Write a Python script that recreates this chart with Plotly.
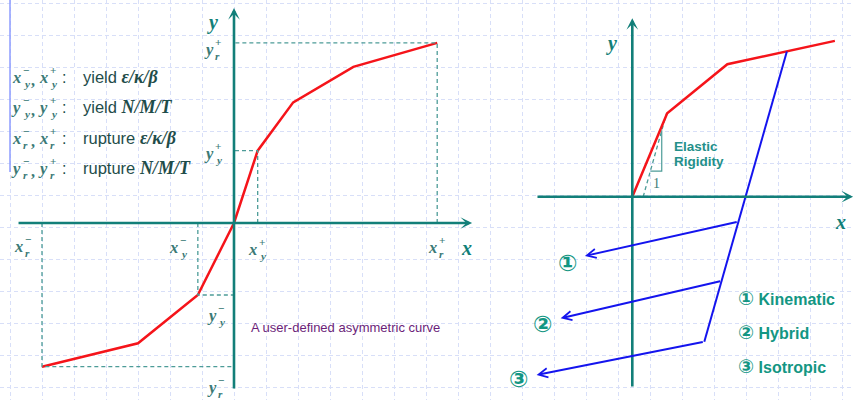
import plotly.graph_objects as go

W, H = 854, 400
UNIT = 32          # pixels per data unit in both panels
SPLIT = 500        # pixel column that separates the two panels
L_ORIGIN = (234.0, 223.0)
R_ORIGIN = (632.3, 196.7)

# ---------------- data : left panel (user-defined asymmetric curve) ----------------
left_curve_x = [-6.0, -3.0, -1.13, 0.0, 0.74, 1.85, 3.73, 6.35]
left_curve_y = [-4.49, -3.76, -2.25, 0.0, 2.26, 3.77, 4.88, 5.63]
left_key_points = [0, 2, 4, 7]          # rupture-, yield-, yield+, rupture+
left_xaxis_extent = [-6.78, 7.44]
left_yaxis_extent = [-5.22, 6.72]

# ---------------- data : right panel (hardening rules) ----------------
right_curve_x = [0.0, 1.09, 2.97, 6.33]
right_curve_y = [0.0, 2.61, 4.14, 4.87]
unload_x = [4.83, 2.25]
unload_y = [4.54, -4.53]
branch_start_x = [3.31, 2.79, 2.25]
branch_start_y = [-0.78, -2.63, -4.53]
branch_end_x = [-1.48, -2.24, -2.99]
branch_end_y = [-1.85, -3.80, -5.57]
rigidity_x = [0.34, 1.07]
rigidity_y = [0.0, 2.6]
triangle_x = [0.57, 0.92, 0.92]
triangle_y = [0.80, 0.80, 2.08]
right_xaxis_extent = [-3.01, 6.9]
right_yaxis_extent = [-5.98, 5.58]
branch_marks = ["①", "②", "③"]
hardening_names = ["Kinematic", "Hybrid", "Isotropic"]

# ---------------- text ----------------
legend_symbols = [("x", "y"), ("y", "y"), ("x", "r"), ("y", "r")]
legend_words = ["yield", "yield", "rupture", "rupture"]
legend_quantities = ["ε/κ/β", "N/M/T", "ε/κ/β", "N/M/T"]
left_axis_symbols = [("x", "−", "r"), ("x", "−", "y"), ("x", "+", "y"), ("x", "+", "r"),
                     ("y", "+", "r"), ("y", "+", "y"), ("y", "−", "y"), ("y", "−", "r")]
note_text = "A user-defined asymmetric curve"

# ---------------- styles ----------------
SERIF = "Liberation Serif, Times New Roman, serif"
SANS = "Liberation Sans, Arial, sans-serif"
CIRC = "DejaVu Sans, Noto Sans CJK SC, sans-serif"
AXIS_C = "#127f79"
LABEL_C = "#3b7a76"
GUIDE_C = "#4d9c98"
RED = "#f5141a"
BLUE = "#1414ee"
GREEN = "#139683"
TEXT_C = "#1f4d4a"
GRID_C = "#d8dff8"

fig = go.Figure()

# background grid subplot (pixel coordinates)
fig.add_trace(go.Scatter(x=[None], y=[None], xaxis="x", yaxis="y", showlegend=False, hoverinfo="skip"))

# ---- left panel ----
fig.add_trace(go.Scatter(x=left_curve_x, y=left_curve_y, xaxis="x2", yaxis="y2", mode="lines",
                         line=dict(color=RED, width=2.5), showlegend=False, hoverinfo="skip"))
for i in left_key_points:
    px, py = left_curve_x[i], left_curve_y[i]
    fig.add_trace(go.Scatter(x=[px, px, 0], y=[0, py, py], xaxis="x2", yaxis="y2", mode="lines",
                             line=dict(color=GUIDE_C, width=1.3, dash="4px,3px"),
                             showlegend=False, hoverinfo="skip"))

# ---- right panel ----
fig.add_trace(go.Scatter(x=rigidity_x, y=rigidity_y, xaxis="x3", yaxis="y3", mode="lines",
                         line=dict(color=GUIDE_C, width=1.3, dash="4px,3px"), showlegend=False, hoverinfo="skip"))
fig.add_trace(go.Scatter(x=triangle_x, y=triangle_y, xaxis="x3", yaxis="y3", mode="lines",
                         line=dict(color=GUIDE_C, width=1.2), showlegend=False, hoverinfo="skip"))
fig.add_trace(go.Scatter(x=right_curve_x, y=right_curve_y, xaxis="x3", yaxis="y3", mode="lines",
                         line=dict(color=RED, width=2.5), showlegend=False, hoverinfo="skip"))
fig.add_trace(go.Scatter(x=unload_x, y=unload_y, xaxis="x3", yaxis="y3", mode="lines",
                         line=dict(color=BLUE, width=2), showlegend=False, hoverinfo="skip"))

ann = []


def arrow(x0, y0, x1, y1, ax, color, width, head, size):
    ann.append(dict(x=x1, y=y1, ax=x0, ay=y0, xref=ax[0], yref=ax[1], axref=ax[0], ayref=ax[1],
                    text="", showarrow=True, arrowhead=head, arrowsize=size, arrowwidth=width,
                    arrowcolor=color, standoff=0, startstandoff=0))


# axes with arrows
arrow(left_xaxis_extent[0], 0, left_xaxis_extent[1], 0, ("x2", "y2"), AXIS_C, 2.6, 3, 0.75)
arrow(0, left_yaxis_extent[0], 0, left_yaxis_extent[1], ("x2", "y2"), AXIS_C, 2.6, 3, 0.75)
arrow(right_xaxis_extent[0], 0, right_xaxis_extent[1], 0, ("x3", "y3"), AXIS_C, 2.6, 3, 0.75)
arrow(0, right_yaxis_extent[0], 0, right_yaxis_extent[1], ("x3", "y3"), AXIS_C, 2.6, 3, 0.75)

# reloading branches
for sx, sy, ex, ey in zip(branch_start_x, branch_start_y, branch_end_x, branch_end_y):
    arrow(sx, sy, ex, ey, ("x3", "y3"), BLUE, 2, 5, 0.9)


def text(x, y, t, size, color, family, xanchor="center"):
    ann.append(dict(x=x, y=y, xref="x", yref="y", text=t, showarrow=False, xanchor=xanchor,
                    yanchor="middle", font=dict(size=size, color=color, family=family)))


def stacked(x, y, base, sup, sub, size=16.5, color=LABEL_C):
    text(x, y, f"<b><i>{base}</i></b>", size, color, SERIF)
    text(x + size * 0.28, y - size * 0.45, f"<b>{sup}</b>", size * 0.68, color, SERIF, "left")
    text(x + size * 0.28, y + size * 0.42, f"<b><i>{sub}</i></b>", size * 0.68, color, SERIF, "left")


# left legend block
legend_rows_y = [77, 107, 138, 168]
for ry, (b, s), word, q in zip(legend_rows_y, legend_symbols, legend_words, legend_quantities):
    stacked(16.3, ry, b, "−", s)
    text(32.5, ry + 3, "<b>,</b>", 16, LABEL_C, SERIF)
    stacked(43.3, ry, b, "+", s)
    text(63.5, ry, ":", 16, TEXT_C, SANS)
    text(81, ry, f"{word} <span style=\"font-family:Liberation Serif;font-size:18px\"><b><i>{q}</i></b></span>",
         16.5, TEXT_C, SANS, "left")

# left axis labels
left_label_pos = [(18.5, 246), (173.5, 247), (252.5, 249), (432.5, 247.5),
                  (208.5, 49), (208.5, 153), (211.5, 315), (211.5, 387)]
for (lx, ly), (b, sp, sb) in zip(left_label_pos, left_axis_symbols):
    stacked(lx, ly, b, sp, sb)

text(466, 248, "<b><i>x</i></b>", 20, AXIS_C, SERIF)
text(212.5, 22, "<b><i>y</i></b>", 20, AXIS_C, SERIF)
text(249, 327, note_text, 13, "#6b1e79", SANS, "left")

# right panel labels
text(840, 222, "<b><i>x</i></b>", 20, AXIS_C, SERIF)
text(611, 43.5, "<b><i>y</i></b>", 20, AXIS_C, SERIF)
text(671.5, 146, "<b>Elastic</b>", 13.5, "#24908a", SANS, "left")
text(671.5, 161.5, "<b>Rigidity</b>", 13.5, "#24908a", SANS, "left")
text(656, 183, "1", 14, LABEL_C, SERIF)
for (mx, my), m in zip([(567.3, 262.5), (542.5, 324), (518, 379)], branch_marks):
    text(mx, my, f"<b>{m}</b>", 23, GREEN, CIRC)
for ly, m, name in zip([298, 332, 366], branch_marks, hardening_names):
    text(736, ly, f"<b><span style=\"font-family:DejaVu Sans;font-size:19px\">{m}</span> {name}</b>",
         16, GREEN, SANS, "left")

shapes = [dict(type="line", xref="x", yref="y", x0=10, x1=10, y0=0, y1=172,
               line=dict(color="#8e9cff", width=1.5))]

hidden = dict(visible=False, fixedrange=True)
grid_axis = dict(domain=[0, 1], dtick=32, showgrid=True, gridcolor=GRID_C, griddash="4px,3px", gridwidth=1,
                 zeroline=False, showticklabels=False, ticks="", showline=False, fixedrange=True)
fig.update_layout(
    width=W, height=H, margin=dict(l=0, r=0, t=0, b=0),
    paper_bgcolor="white", plot_bgcolor="rgba(0,0,0,0)", showlegend=False,
    xaxis=dict(range=[0, W], tick0=10, **grid_axis),
    yaxis=dict(range=[H, 0], tick0=3, **grid_axis),
    xaxis2=dict(domain=[0, SPLIT / W], range=[(0 - L_ORIGIN[0]) / UNIT, (SPLIT - L_ORIGIN[0]) / UNIT],
                anchor="y2", **hidden),
    yaxis2=dict(domain=[0, 1], range=[(L_ORIGIN[1] - H) / UNIT, L_ORIGIN[1] / UNIT], anchor="x2", **hidden),
    xaxis3=dict(domain=[SPLIT / W, 1], range=[(SPLIT - R_ORIGIN[0]) / UNIT, (W - R_ORIGIN[0]) / UNIT],
                anchor="y3", **hidden),
    yaxis3=dict(domain=[0, 1], range=[(R_ORIGIN[1] - H) / UNIT, R_ORIGIN[1] / UNIT], anchor="x3", **hidden),
    annotations=ann, shapes=shapes,
)

fig.write_html("out.html", config={"displayModeBar": False},
               post_script="document.body.style.margin='0px';document.body.style.overflow='hidden';")
